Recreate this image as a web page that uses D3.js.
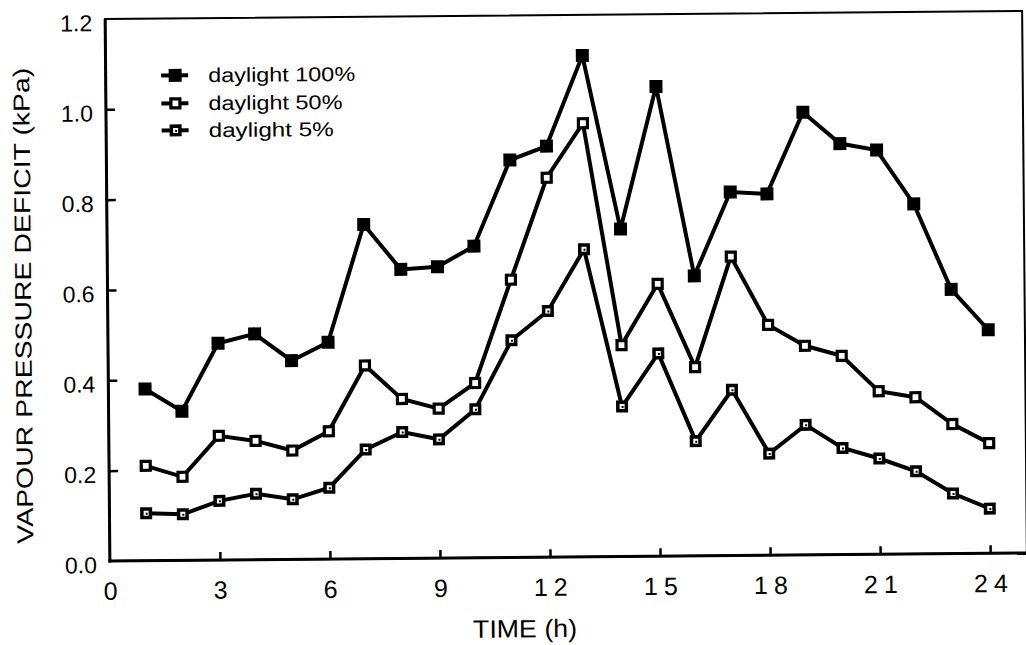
<!DOCTYPE html>
<html><head><meta charset="utf-8">
<script src="https://cdn.jsdelivr.net/npm/d3@7"></script>
<style>
body{margin:0;background:#fff;}
text{font-family:"Liberation Sans",Arial,Helvetica,sans-serif;fill:#000;}
</style></head>
<body><svg id="c" width="1026" height="645"></svg>
<script>
const hours = d3.range(1, 25);
const day100 = [0.38,0.33,0.48,0.50,0.44,0.48,0.74,0.64,0.645,0.69,0.88,0.91,1.11,0.725,1.04,0.62,0.805,0.80,0.98,0.91,0.895,0.775,0.585,0.495];
const day50  = [0.21,0.185,0.275,0.263,0.241,0.283,0.428,0.353,0.331,0.387,0.615,0.84,0.96,0.468,0.603,0.418,0.662,0.51,0.463,0.44,0.361,0.347,0.287,0.244];
const day5   = [0.105,0.102,0.131,0.146,0.133,0.158,0.242,0.28,0.263,0.329,0.481,0.545,0.681,0.332,0.449,0.254,0.367,0.225,0.288,0.236,0.212,0.183,0.133,0.099];
const xTicks = [0,3,6,9,12,15,18,21,24];
const yTicks = [0,0.2,0.4,0.6,0.8,1.0,1.2];
const seriesNames = ["daylight 100%","daylight 50%","daylight 5%"];
const xTitle = "TIME (h)";
const yTitle = "VAPOUR PRESSURE DEFICIT (kPa)";

const L=107.5, R=1024.5, T=15, B=557;
const svg = d3.select("#c").append("g").attr("transform",`rotate(-0.5,${(L+R)/2},${(T+B)/2})`);
const x = d3.scaleLinear().domain([0,25]).range([L,R]);
const y = d3.scaleLinear().domain([0,1.2]).range([B,T]);

// frame
svg.append("rect").attr("x",L).attr("y",T).attr("width",R-L).attr("height",B-T)
  .attr("fill","none").attr("stroke","#000").attr("stroke-width",2);
svg.append("line").attr("x1",L).attr("x2",L).attr("y1",T).attr("y2",B+1.5).attr("stroke","#000").attr("stroke-width",3);
svg.append("line").attr("x1",L-1.5).attr("x2",R).attr("y1",B).attr("y2",B).attr("stroke","#000").attr("stroke-width",3);

// axes
const xAxis = d3.axisBottom(x).tickValues(xTicks).tickSize(-8).tickPadding(21).tickFormat(d=>d);
const gx = svg.append("g").attr("transform",`translate(0,${B})`).call(xAxis);
gx.select(".domain").remove();
gx.selectAll(".tick line").attr("stroke","#000").attr("stroke-width",2.5).filter(d=>d===0).remove();
gx.selectAll(".tick text").attr("font-size",25).attr("letter-spacing",d=>d>=10?"6px":"0px")
  .attr("dx",d=>d>=10?"3px":"0px").attr("fill","#000");

const yAxis = d3.axisLeft(y).tickValues(yTicks).tickSize(-9).tickPadding(13).tickFormat(d3.format(".1f"));
const gy = svg.append("g").attr("transform",`translate(${L},0)`).call(yAxis);
gy.select(".domain").remove();
gy.selectAll(".tick line").attr("stroke","#000").attr("stroke-width",2.5).filter(d=>d===0||d===1.2).remove();
gy.selectAll(".tick text").attr("font-size",23).attr("dy","0.5em").attr("fill","#000");

svg.append("text").attr("x",522).attr("y",637).attr("text-anchor","middle").attr("font-size",25)
  .attr("textLength",104).attr("lengthAdjust","spacingAndGlyphs").text(xTitle);
svg.append("text").attr("transform",`translate(31,301) rotate(-90)`).attr("text-anchor","middle").attr("font-size",23)
  .attr("textLength",476).attr("lengthAdjust","spacingAndGlyphs").text(yTitle);

const line = d3.line().x((d,i)=>x(hours[i])).y(d=>y(d));
const series = [day100, day50, day5];

function marker(g, kind){
  if(kind===0){
    g.append("rect").attr("x",-6.5).attr("y",-6.5).attr("width",13).attr("height",13).attr("fill","#000");
  } else if(kind===1){
    g.append("rect").attr("x",-4.5).attr("y",-4.5).attr("width",9).attr("height",9).attr("fill","#fff").attr("stroke","#000").attr("stroke-width",3.2);
  } else {
    g.append("rect").attr("x",-6).attr("y",-6).attr("width",12).attr("height",12).attr("fill","#000");
    g.append("rect").attr("x",-2.5).attr("y",-2.5).attr("width",5).attr("height",5).attr("fill","#fff");
    g.append("rect").attr("x",-0.5).attr("y",-0.5).attr("width",2).attr("height",2).attr("fill","#000");
  }
}

series.forEach((s,k)=>{
  svg.append("path").datum(s).attr("d",line).attr("fill","none").attr("stroke","#000").attr("stroke-width",4).attr("stroke-linejoin","miter");
  s.forEach((v,i)=>{
    const g = svg.append("g").attr("transform",`translate(${x(hours[i])},${y(v)})`);
    marker(g,k);
  });
});

// legend
const legY = [72,100,127];
seriesNames.forEach((n,k)=>{
  svg.append("line").attr("x1",163).attr("x2",190).attr("y1",legY[k]).attr("y2",legY[k]).attr("stroke","#000").attr("stroke-width",4);
  const g = svg.append("g").attr("transform",`translate(177,${legY[k]})`);
  marker(g,k);
  svg.append("text").attr("x",210).attr("y",legY[k]+7).attr("font-size",20)
    .attr("textLength",[147,134,125][k]).attr("lengthAdjust","spacingAndGlyphs").text(n);
});
</script></body></html>
